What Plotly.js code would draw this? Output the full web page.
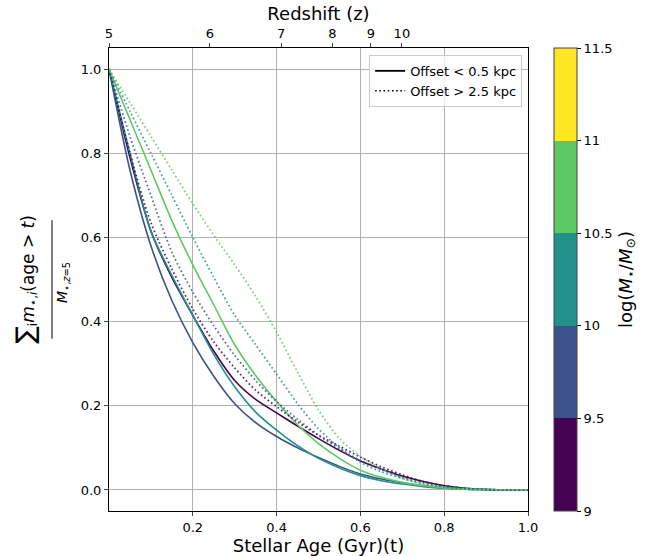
<!DOCTYPE html>
<html>
<head>
<meta charset="utf-8">
<script src="https://cdn.plot.ly/plotly-3.0.1.min.js"></script>
<style>html,body{margin:0;padding:0;background:#fff;}#chart{width:654px;height:556px;}</style>
</head>
<body>
<div id="chart"></div>
<script>
// Stellar age grid (Gyr)
const age = [0, 0.05, 0.1, 0.15, 0.2, 0.25, 0.3, 0.35, 0.4, 0.45, 0.5, 0.55, 0.6, 0.65, 0.7, 0.75, 0.8, 0.85, 0.9, 0.95, 1.0];

// Offset < 0.5 kpc (solid)
const solid_9_0  = [1, 0.79, 0.615, 0.505, 0.415, 0.33, 0.26, 0.215, 0.183, 0.152, 0.122, 0.094, 0.069, 0.05, 0.033, 0.02, 0.01, 0.004, 0.001, 0, 0];
const solid_9_5  = [1, 0.76, 0.58, 0.45, 0.35, 0.27, 0.205, 0.16, 0.127, 0.1, 0.077, 0.056, 0.038, 0.026, 0.017, 0.010, 0.005, 0.002, 0.001, 0, 0];
const solid_10_0 = [1, 0.80, 0.615, 0.51, 0.415, 0.322, 0.245, 0.185, 0.142, 0.105, 0.075, 0.052, 0.034, 0.022, 0.014, 0.008, 0.004, 0.002, 0.001, 0, 0];
const solid_10_5 = [1, 0.88, 0.76, 0.64, 0.535, 0.44, 0.345, 0.272, 0.21, 0.155, 0.11, 0.075, 0.047, 0.03, 0.018, 0.01, 0.005, 0.002, 0.001, 0, 0];

// Offset > 2.5 kpc (dotted)
const dot_9_0  = [1, 0.80, 0.635, 0.525, 0.43, 0.352, 0.29, 0.237, 0.198, 0.162, 0.13, 0.104, 0.078, 0.055, 0.036, 0.02, 0.01, 0.004, 0.001, 0, 0];
const dot_9_5  = [1, 0.84, 0.70, 0.565, 0.47, 0.39, 0.32, 0.26, 0.21, 0.168, 0.13, 0.098, 0.07, 0.048, 0.03, 0.017, 0.008, 0.003, 0.001, 0, 0];
const dot_10_0 = [1, 0.90, 0.80, 0.70, 0.60, 0.505, 0.415, 0.345, 0.275, 0.205, 0.145, 0.1, 0.066, 0.043, 0.027, 0.015, 0.007, 0.003, 0.001, 0, 0];
const dot_10_5 = [1, 0.92, 0.84, 0.76, 0.68, 0.605, 0.535, 0.46, 0.375, 0.28, 0.19, 0.122, 0.08, 0.05, 0.028, 0.014, 0.006, 0.002, 0.001, 0, 0];

// Mass bins (log M*/Msun) and colours
const massEdges = [9, 9.5, 10, 10.5, 11, 11.5];
const massLabels = ["9", "9.5", "10", "10.5", "11", "11.5"];
const binColors = ["#440154", "#3b528b", "#21918c", "#5ec962", "#fde725"];

// Top redshift axis
const zLabels = ["5", "6", "7", "8", "9", "10"];
const zAgePos = [0, 0.241, 0.411, 0.533, 0.625, 0.699];

const xTicks = [0.2, 0.4, 0.6, 0.8, 1.0];
const yTicks = [0.0, 0.2, 0.4, 0.6, 0.8, 1.0];

const solidSeries = [solid_9_0, solid_9_5, solid_10_0, solid_10_5];
const dotSeries = [dot_9_0, dot_9_5, dot_10_0, dot_10_5];
const dotDash = '1.6px,2.6px';

const traces = [];
solidSeries.forEach((s, i) => {
  traces.push({type:'scatter', mode:'lines', x: age, y: s, showlegend:false,
    line:{color: binColors[i], width:1.6, shape:'spline', smoothing:0.8},
    name: massEdges[i] + '-' + massEdges[i+1] + ' solid', hoverinfo:'x+y'});
});
dotSeries.forEach((s, i) => {
  traces.push({type:'scatter', mode:'lines', x: age, y: s, showlegend:false, opacity:0.85,
    line:{color: binColors[i], width:1.8, dash:dotDash, shape:'spline', smoothing:0.8},
    name: massEdges[i] + '-' + massEdges[i+1] + ' dotted', hoverinfo:'x+y'});
});
// legend entries
traces.push({type:'scatter', mode:'lines', x:[null], y:[null], name:'Offset < 0.5 kpc', line:{color:'#000', width:1.6}});
traces.push({type:'scatter', mode:'lines', x:[null], y:[null], name:'Offset > 2.5 kpc', line:{color:'#000', width:1.6, dash:dotDash}});
// top axis carrier
traces.push({type:'scatter', mode:'lines', x:[null], y:[null], xaxis:'x2', showlegend:false, hoverinfo:'skip'});

// colorbar carrier
const cscale = [];
binColors.forEach((c, i) => {
  cscale.push([i / binColors.length, c]);
  cscale.push([(i + 1) / binColors.length, c]);
});
traces.push({type:'scatter', mode:'markers', x:[null], y:[null], showlegend:false, hoverinfo:'skip',
  marker:{color:[massEdges[0]], cmin: massEdges[0], cmax: massEdges[massEdges.length-1], colorscale: cscale, showscale:true,
    colorbar:{x:1.062, xanchor:'left', xpad:0, ypad:0, y:0.5, yanchor:'middle', yref:'paper', len:463, lenmode:'pixels', thickness:23,
      outlinewidth:1, outlinecolor:'#444', tickvals: massEdges, ticktext: massLabels, ticks:'outside', ticklen:4, tickcolor:'#000',
      tickfont:{family:'DejaVu Sans', size:13, color:'#000'},
      title:{text:'log(<i>M</i><sub>⋆</sub>/<i>M</i><sub>⊙</sub>)', side:'right', font:{family:'DejaVu Sans', size:18, color:'#000'}}}}});

const layout = {
  width:654, height:556,
  margin:{l:109, r:126, t:48, b:45, autoexpand:false},
  paper_bgcolor:'#fff', plot_bgcolor:'#fff',
  font:{family:'DejaVu Sans', size:13, color:'#000'},
  xaxis:{range:[0,1], tickvals:xTicks, tickformat:'.1f', showgrid:true, gridcolor:'#b0b0b0', gridwidth:1,
    showline:true, linecolor:'#000', linewidth:1, mirror:true, ticks:'outside', ticklen:4, zeroline:false,
    tickfont:{size:13},
    title:{text:'Stellar Age (Gyr)(t)', font:{size:18}, standoff:2}},
  xaxis2:{overlaying:'x', side:'top', range:[0,1], tickvals:zAgePos, ticktext:zLabels, showgrid:false,
    showline:true, linecolor:'#000', ticks:'outside', ticklen:4, zeroline:false, tickfont:{size:13},
    title:{text:'Redshift (z)', font:{size:18}, standoff:0}},
  yaxis:{range:[-0.05,1.05], tickvals:yTicks, tickformat:'.1f', showgrid:true, gridcolor:'#b0b0b0', gridwidth:1,
    showline:true, linecolor:'#000', linewidth:1, mirror:true, ticks:'outside', ticklen:4, zeroline:false, tickfont:{size:13}},
  legend:{x:0.986, y:0.985, xanchor:'right', yanchor:'top', bgcolor:'rgba(255,255,255,0.8)', bordercolor:'#cccccc', borderwidth:1,
    font:{size:13}, tracegroupgap:0},
  shapes:[{type:'line', xref:'paper', yref:'paper', x0:-0.136, x1:-0.136, y0:0.372, y1:0.628, line:{color:'#000', width:1}}],
  annotations:[
    {xref:'paper', yref:'paper', x:-0.2, y:0.5, text:'<span style="font-size:26px">∑</span><sub>i</sub><i>m</i><sub>⋆,<i>i</i></sub>(age > <i>t</i>)',
      textangle:-90, showarrow:false, font:{size:17}, xanchor:'center', yanchor:'middle'},
    {xref:'paper', yref:'paper', x:-0.108, y:0.494, text:'<i>M</i><sub>⋆,<i>z</i>=5</sub>',
      textangle:-90, showarrow:false, font:{size:14}, xanchor:'center', yanchor:'middle'}
  ]
};

Plotly.newPlot('chart', traces, layout, {displayModeBar:false, staticPlot:true});
</script>
</body>
</html>
